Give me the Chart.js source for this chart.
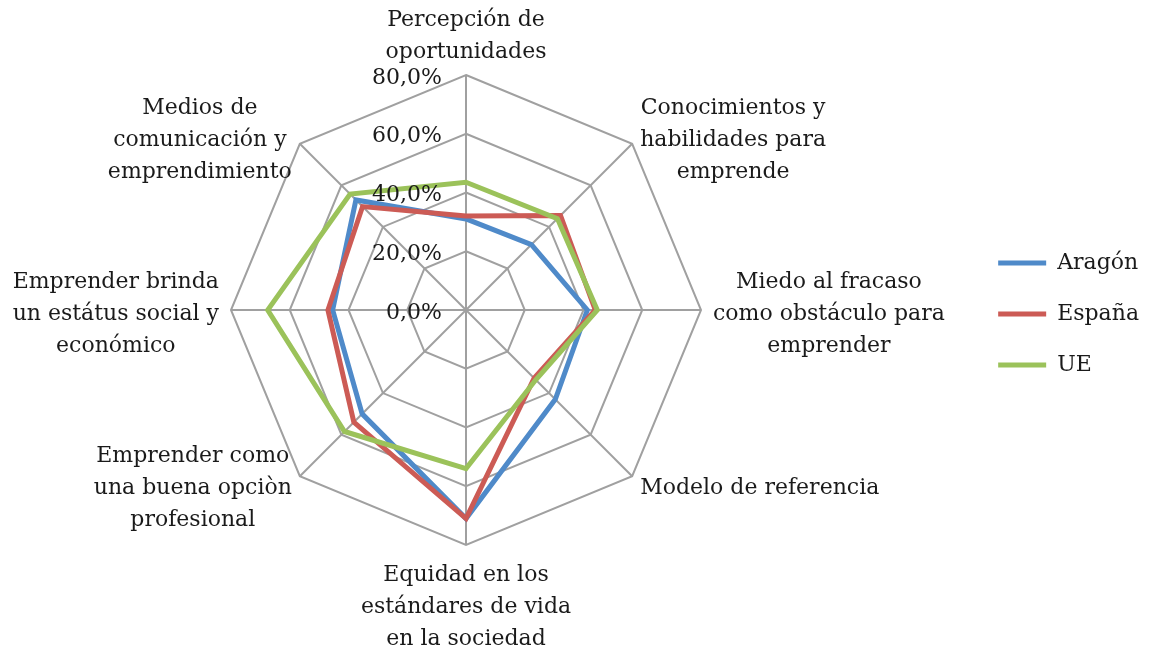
<!DOCTYPE html>
<html>
<head>
<meta charset="utf-8">
<script src="https://cdn.jsdelivr.net/npm/chart.js@4.4.1/dist/chart.umd.min.js"></script>
<style>
  html, body { margin: 0; padding: 0; background: #fff; }
</style>
</head>
<body>
<canvas id="radarChart" width="1154" height="654"></canvas>
<script>
const categories = [
  ['Percepción de', 'oportunidades'],
  ['Conocimientos y', 'habilidades para', 'emprende'],
  ['Miedo al fracaso', 'como obstáculo para', 'emprender'],
  ['Modelo de referencia'],
  ['Equidad en los', 'estándares de vida', 'en la sociedad'],
  ['Emprender como', 'una buena opciòn', 'profesional'],
  ['Emprender brinda', 'un estátus social y', 'económico'],
  ['Medios de', 'comunicación y', 'emprendimiento']
];
const aragon = [31, 31.5, 41.3, 43, 71, 50, 45.4, 53];
const espana = [32, 45.5, 44, 32.8, 71, 54, 47, 49.8];
const ue = [43.5, 44, 44.7, 33.6, 54, 58.5, 67.5, 55.8];
const tickValues = [0, 20, 40, 60, 80];
const tickLabels = ['0,0%', '20,0%', '40,0%', '60,0%', '80,0%'];

const FONT = '"DejaVu Serif", serif';
const TEXT = '#1a1a1a';
const GRID = '#a0a0a0';

// spoke labels + percentage ticks, placed like the original spreadsheet chart
const labelPlugin = {
  id: 'labelPlugin',
  afterDatasetsDraw(chart) {
    const scale = chart.scales.r;
    const ctx = chart.ctx;
    const r = scale.drawingArea;
    const cx = scale.xCenter, cy = scale.yCenter;
    ctx.save();
    ctx.font = '22px ' + FONT;
    ctx.fillStyle = TEXT;
    ctx.textBaseline = 'middle';

    ctx.textAlign = 'right';
    scale.ticks.forEach((tick, i) => {
      const y = cy - scale.getDistanceFromCenterForValue(tick.value);
      ctx.fillText(tickLabels[i], cx - 24, y + 3);
    });

    const lineH = 32;
    ctx.textAlign = 'center';
    categories.forEach((lines, i) => {
      const p = scale.getPointPosition(i, r);
      const dx = p.x - cx, dy = p.y - cy;
      const w = Math.max(...lines.map(l => ctx.measureText(l).width));
      const h = lines.length * lineH;
      let x, top;
      if (Math.abs(dx) < 1) {
        x = p.x;
        top = dy < 0 ? p.y - 7 - h : p.y + 14;
      } else {
        const pad = Math.abs(dy) < 1 ? 12 : 8;
        x = dx > 0 ? p.x + pad + w / 2 : p.x - pad - w / 2;
        let mid = p.y + 4;
        if (dy < -1) mid = p.y - 4;
        if (dy > 1) mid = p.y + 12;
        top = mid - h / 2;
      }
      lines.forEach((l, k) => ctx.fillText(l, x, top + lineH * k + lineH / 2));
    });
    ctx.restore();
  }
};

const ctx = document.getElementById('radarChart').getContext('2d');
new Chart(ctx, {
  type: 'radar',
  data: {
    labels: categories,
    datasets: [
      { label: 'Aragón', data: aragon, borderColor: '#4f8ac9', order: 2 },
      { label: 'España', data: espana, borderColor: '#cc5b55', order: 1 },
      { label: 'UE', data: ue, borderColor: '#9bc25a', order: 0 }
    ].map(d => Object.assign(d, {
      fill: false,
      borderWidth: 5,
      borderCapStyle: 'round',
      pointRadius: 0,
      pointHoverRadius: 0
    }))
  },
  options: {
    responsive: false,
    animation: false,
    layout: { padding: { left: 0, right: 5, top: 79, bottom: 105 } },
    scales: {
      r: {
        min: 0,
        max: 80,
        ticks: {
          stepSize: 20,
          display: false,
          callback: (v) => tickLabels[tickValues.indexOf(v)]
        },
        pointLabels: { display: false },
        grid: { color: GRID, lineWidth: 2 },
        angleLines: { color: GRID, lineWidth: 2 },
        // the web sits left of the free space, legend further right
        afterFit: (scale) => {
          scale.xCenter -= 18;
          scale.yCenter -= 4;
        }
      }
    },
    plugins: {
      tooltip: { enabled: false },
      legend: {
        position: 'right',
        labels: {
          font: { family: FONT, size: 22 },
          color: TEXT,
          usePointStyle: true,
          pointStyle: 'line',
          pointStyleWidth: 48,
          padding: 29,
          sort: (a, b) => a.datasetIndex - b.datasetIndex
        }
      }
    }
  },
  plugins: [labelPlugin]
});
</script>
</body>
</html>
